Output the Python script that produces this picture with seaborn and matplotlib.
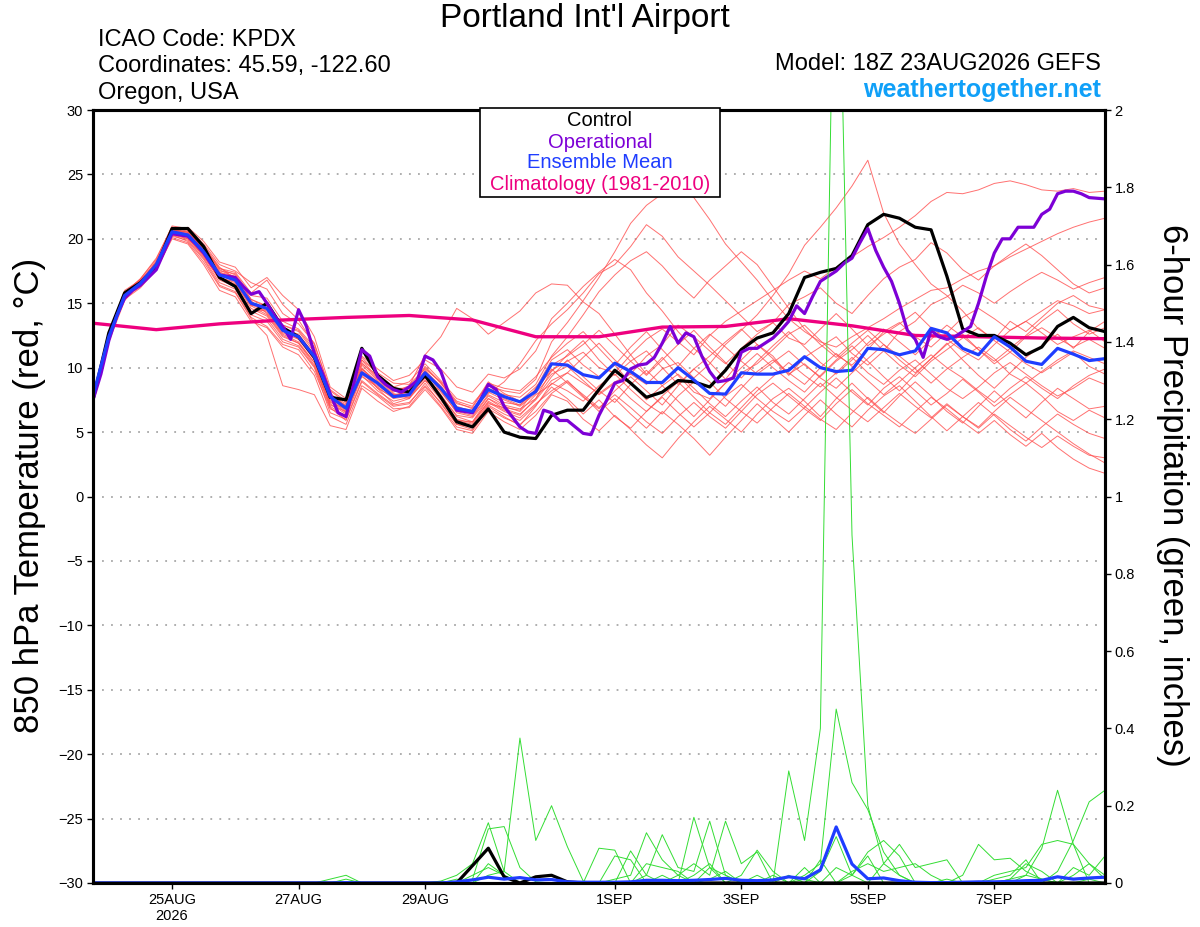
import numpy as np
import pandas as pd
import matplotlib
matplotlib.use("Agg")
import matplotlib.pyplot as plt
from matplotlib.patches import Rectangle
import seaborn as sns

sns.set_theme(style="ticks")
plt.rcParams["font.family"] = ["Liberation Sans", "DejaVu Sans"]
plt.rcParams["text.color"] = "black"

START = "2026-08-23 18:00"
END = "2026-09-08 18:00"

# 850 hPa temperature, 6-hourly (control, ensemble mean, members)
control = [7.5, 12.7, 15.8, 16.6, 17.8, 20.8, 20.8, 19.4, 17.0, 16.3,
           14.2, 15.0, 13.1, 12.4, 10.8, 7.7, 7.5, 11.5, 9.4, 8.4,
           8.1, 9.4, 7.7, 5.8, 5.4, 6.8, 5.0, 4.6, 4.5, 6.3,
           6.7, 6.7, 8.3, 9.8, 8.8, 7.7, 8.1, 9.0, 8.9, 8.5,
           9.8, 11.4, 12.3, 12.7, 14.2, 17.0, 17.4, 17.7, 18.7, 21.1,
           21.9, 21.6, 20.9, 20.7, 17.1, 13.0, 12.5, 12.5, 11.9, 11.0,
           11.6, 13.2, 13.9, 13.1, 12.8]

ens_mean = [7.8, 12.4, 15.6, 16.55, 18.0, 20.55, 20.3, 19.0, 17.2, 16.8,
            15.0, 14.6, 12.9, 12.4, 10.85, 7.75, 6.85, 9.6, 8.8, 7.75,
            7.9, 9.6, 8.4, 6.85, 6.6, 8.3, 7.75, 7.35, 8.15, 10.3,
            10.2, 9.45, 9.2, 10.35, 9.7, 8.85, 8.85, 10.0, 9.05, 8.0,
            7.95, 9.6, 9.5, 9.5, 9.8, 10.85, 10.0, 9.7, 9.8, 11.5,
            11.4, 11.0, 11.3, 13.05, 12.7, 11.5, 11.0, 12.4, 11.6, 10.5,
            10.25, 11.5, 11.05, 10.55, 10.7]

# operational run, 3-hourly
operational = [7.5, 9.5, 12.1, 14.0, 15.4, 16.0, 16.4, 17.0, 17.6, 19.0,
               20.4, 20.3, 20.2, 19.6, 18.9, 18.0, 17.2, 17.1, 17.0, 16.3,
               15.7, 15.9, 15.0, 14.0, 13.2, 12.2, 14.5, 13.2, 11.1, 9.6,
               8.0, 6.5, 6.2, 8.8, 11.4, 10.9, 9.3, 8.7, 8.3, 8.1,
               8.5, 9.0, 10.9, 10.6, 9.7, 8.0, 6.7, 6.6, 6.5, 7.5,
               8.7, 8.3, 7.0, 6.2, 5.4, 5.0, 4.9, 6.7, 6.5, 5.9,
               5.9, 5.4, 4.9, 4.8, 6.3, 7.5, 8.8, 9.0, 9.9, 10.2,
               10.3, 10.8, 11.9, 13.2, 11.9, 12.7, 12.4, 10.9, 9.7, 8.9,
               9.0, 9.2, 11.2, 11.5, 11.5, 11.9, 12.3, 12.9, 13.6, 14.8,
               14.2, 15.5, 16.7, 17.1, 17.5, 18.1, 18.5, 19.7, 20.8, 19.1,
               17.8, 16.7, 15.0, 12.9, 12.2, 10.8, 12.9, 12.4, 12.2, 12.4,
               12.8, 13.2, 15.0, 17.1, 18.9, 20.0, 20.0, 20.9, 20.9, 20.9,
               21.9, 22.3, 23.5, 23.7, 23.7, 23.5, 23.2, 23.15, 23.1]

# climatology, daily
climatology = [13.45, 12.95, 13.4, 13.7, 13.9, 14.05, 13.7, 12.4, 12.4,
               13.15, 13.2, 13.8, 13.25, 12.5, 12.4, 12.3, 12.25]

m01 = [7.6, 12.2, 15.5, 16.8, 18.2, 20.9, 20.7, 19.5, 17.8, 16.9, 15.2, 14.2, 12.6, 12.0, 10.4,
       7.2, 6.4, 10.2, 9.0, 8.0, 7.6, 9.0, 8.2, 6.5, 6.2, 7.8, 7.1, 6.8, 7.6, 9.8,
       10.5, 11.2, 10.0, 9.6, 11.0, 12.2, 13.0, 12.0, 11.0, 12.5, 13.6, 14.4, 15.2, 16.0, 16.8,
       17.5, 16.9, 17.8, 18.6, 19.4, 20.1, 20.9, 21.8, 22.9, 23.6, 23.5, 23.8, 24.3, 24.5, 24.2,
       23.8, 23.7, 23.9, 23.6, 23.7]
m02 = [7.9, 12.6, 15.9, 16.4, 17.8, 20.4, 20.1, 18.6, 16.9, 16.5, 14.8, 14.9, 13.3, 12.8, 11.2,
       8.0, 7.0, 10.8, 9.5, 8.5, 8.9, 10.3, 9.0, 7.6, 7.2, 8.6, 8.2, 8.0, 9.1, 12.0,
       13.5, 15.2, 17.0, 19.0, 21.2, 22.6, 23.5, 24.0, 23.2, 21.5, 19.6, 18.2, 16.8, 15.2, 13.8,
       12.8, 12.0, 11.6, 12.4, 13.1, 13.8, 14.6, 15.3, 16.0, 16.2, 16.9, 17.5, 17.9, 18.6, 19.2,
       19.8, 20.4, 20.9, 21.3, 21.6]
m03 = [7.4, 12.0, 15.2, 16.6, 18.3, 20.8, 20.6, 19.2, 17.5, 17.3, 15.6, 15.4, 13.6, 13.0, 11.6,
       7.4, 6.5, 9.8, 8.4, 7.2, 7.6, 9.4, 7.6, 5.9, 5.8, 7.6, 6.8, 6.4, 7.5, 9.0,
       9.6, 8.8, 8.0, 8.9, 9.5, 8.7, 9.9, 10.4, 9.2, 10.3, 11.8, 12.9, 14.1, 15.6, 17.3,
       19.5, 20.9, 22.4, 24.1, 26.1, 22.0, 19.6, 18.0, 16.5, 15.6, 14.4, 13.0, 12.2, 13.6, 12.8,
       13.9, 15.0, 15.6, 14.8, 14.5]
m04 = [7.7, 12.3, 15.7, 16.7, 17.9, 20.5, 20.9, 19.8, 18.2, 17.8, 16.2, 17.0, 15.6, 14.5, 12.4,
       8.5, 7.6, 10.9, 9.9, 9.0, 9.4, 10.6, 9.9, 8.5, 8.1, 9.5, 9.2, 9.9, 11.3, 13.8,
       15.0, 16.3, 17.4, 18.4, 17.6, 15.8, 14.4, 12.8, 11.5, 10.4, 9.1, 10.6, 11.8, 10.9, 9.4,
       10.8, 11.6, 12.4, 11.1, 10.2, 11.3, 12.8, 13.6, 14.9, 15.5, 16.4, 15.8, 15.0, 15.9, 16.7,
       17.4, 16.8, 16.1, 16.6, 17.0]
m05 = [7.8, 12.5, 15.5, 16.5, 18.1, 20.7, 20.4, 19.3, 17.6, 17.0, 14.9, 14.3, 12.7, 12.2, 10.7,
       7.6, 6.7, 10.4, 9.1, 8.1, 8.6, 11.0, 12.4, 14.6, 13.8, 12.6, 13.5, 14.4, 15.8, 16.5,
       16.4, 15.1, 14.2, 12.6, 11.0, 9.5, 10.8, 9.4, 8.1, 7.6, 8.8, 9.6, 10.3, 11.4, 12.6,
       13.3, 12.1, 11.0, 10.2, 11.4, 12.8, 13.5, 12.4, 11.6, 12.7, 13.9, 14.6, 13.8, 12.9, 13.6,
       14.4, 15.2, 14.8, 14.2, 14.5]
m06 = [7.6, 12.4, 15.8, 16.9, 18.5, 20.9, 20.2, 18.9, 17.0, 16.6, 14.6, 14.0, 12.4, 11.9, 10.2,
       7.0, 6.2, 9.3, 8.5, 7.6, 7.8, 9.2, 7.8, 6.3, 6.1, 7.6, 7.0, 6.6, 7.9, 8.7,
       9.6, 10.8, 11.9, 10.6, 9.5, 10.9, 11.8, 13.3, 12.4, 11.3, 10.3, 11.5, 12.6, 13.5, 12.3,
       11.8, 13.0, 14.2, 13.0, 11.7, 12.6, 13.4, 14.3, 13.1, 12.2, 11.3, 10.6, 11.8, 12.9, 13.6,
       12.7, 11.8, 12.4, 12.9, 12.0]
m07 = [7.5, 12.1, 15.4, 16.3, 17.7, 20.2, 19.9, 18.5, 16.6, 16.1, 14.1, 13.6, 12.0, 11.6, 10.0,
       6.5, 6.0, 9.0, 8.0, 7.1, 7.3, 8.6, 7.3, 5.6, 5.2, 7.0, 6.2, 5.5, 7.0, 8.8,
       8.2, 7.4, 8.6, 9.5, 8.3, 7.2, 6.4, 7.8, 8.9, 8.0, 7.0, 8.4, 9.7, 10.6, 9.5,
       10.3, 9.2, 8.4, 9.6, 10.7, 11.8, 10.9, 9.9, 8.8, 9.9, 10.8, 11.6, 10.7, 9.5, 8.8,
       9.7, 10.6, 11.3, 10.8, 10.3]
m08 = [7.9, 12.7, 16.0, 16.8, 18.0, 20.3, 19.8, 18.4, 16.4, 15.9, 13.9, 13.2, 11.8, 11.4, 9.7,
       6.8, 6.3, 9.5, 8.6, 7.8, 8.2, 9.8, 8.5, 6.8, 6.5, 8.1, 7.5, 7.0, 8.0, 9.5,
       10.1, 9.0, 7.9, 8.8, 7.6, 6.6, 7.8, 8.9, 7.7, 6.5, 5.6, 6.9, 8.2, 9.3, 10.4,
       9.4, 8.5, 9.6, 10.8, 9.6, 8.7, 9.8, 10.6, 9.5, 8.4, 7.6, 8.5, 9.6, 10.4, 9.5,
       8.6, 7.8, 8.4, 9.2, 8.7]
m09 = [7.6, 12.3, 15.6, 16.4, 17.6, 20.0, 19.6, 18.0, 16.0, 15.5, 13.6, 13.1, 11.6, 11.0, 9.4,
       6.2, 5.6, 8.6, 7.8, 6.8, 6.9, 8.3, 6.9, 5.2, 4.9, 6.6, 5.8, 5.2, 6.3, 7.9,
       7.4, 6.0, 5.1, 6.3, 5.2, 4.0, 3.0, 4.5, 5.8, 7.0, 6.0, 5.0, 6.4, 7.6, 8.4,
       7.4, 6.2, 7.6, 8.8, 7.6, 6.5, 7.8, 8.9, 7.8, 6.6, 5.7, 7.0, 8.2, 7.1, 6.1,
       7.3, 8.4, 7.6, 6.8, 7.0]
m10 = [7.8, 12.5, 15.7, 16.6, 17.9, 20.4, 20.0, 18.7, 16.8, 16.3, 14.3, 14.5, 12.9, 12.4, 10.6,
       7.3, 6.8, 9.9, 8.8, 7.9, 8.1, 9.5, 7.9, 6.2, 5.8, 7.3, 6.6, 6.1, 7.2, 8.2,
       9.0, 7.8, 6.6, 7.6, 6.4, 5.3, 6.6, 5.6, 4.5, 3.2, 4.6, 5.9, 7.2, 6.1, 5.0,
       6.3, 7.5, 6.4, 5.4, 6.7, 7.8, 8.6, 7.4, 6.2, 5.1, 6.2, 7.3, 6.3, 5.2, 4.3,
       5.4, 6.4, 5.6, 4.9, 4.5]
m11 = [7.7, 12.4, 15.6, 16.7, 18.2, 20.6, 20.4, 19.1, 17.4, 16.9, 15.0, 14.4, 12.8, 12.3, 10.8,
       7.5, 6.6, 9.4, 8.2, 7.4, 7.7, 9.0, 7.5, 5.9, 5.6, 7.2, 6.9, 6.7, 8.4, 10.6,
       11.4, 10.2, 9.3, 10.2, 8.8, 7.5, 8.6, 9.5, 8.4, 7.2, 6.2, 7.4, 8.5, 7.3, 6.4,
       7.6, 8.8, 7.7, 6.7, 5.8, 6.9, 8.0, 7.0, 6.1, 7.2, 6.2, 5.3, 6.4, 5.5, 4.6,
       3.8, 4.7, 3.9, 3.2, 3.0]
m12 = [7.5, 12.2, 15.3, 16.2, 17.6, 20.1, 19.7, 18.2, 16.3, 15.8, 13.8, 12.5, 8.6, 8.3, 7.9,
       5.5, 5.2, 8.4, 7.4, 6.6, 7.0, 8.5, 7.0, 5.4, 5.1, 6.8, 6.1, 5.6, 6.6, 8.0,
       8.9, 7.9, 6.9, 7.9, 6.9, 5.8, 4.9, 6.2, 7.3, 6.2, 5.3, 6.6, 7.9, 8.8, 7.8,
       6.8, 5.9, 7.2, 8.3, 7.2, 6.3, 5.4, 6.6, 7.7, 6.8, 5.8, 4.9, 5.9, 4.8, 3.9,
       4.9, 3.8, 2.9, 2.2, 1.8]
m13 = [7.7, 12.3, 15.6, 16.5, 18.0, 20.7, 20.5, 19.2, 17.4, 17.1, 15.3, 14.8, 13.1, 12.5, 11.0,
       7.9, 7.2, 10.3, 9.4, 8.4, 8.4, 10.1, 8.8, 7.2, 6.9, 8.8, 8.4, 8.2, 9.3, 10.8,
       11.9, 12.8, 11.5, 10.2, 11.6, 12.8, 11.4, 10.1, 11.5, 12.6, 11.6, 10.5, 9.5, 10.4, 11.3,
       10.2, 9.3, 10.5, 11.4, 12.5, 11.3, 10.2, 9.3, 10.5, 11.4, 12.3, 13.1, 12.1, 11.2, 10.3,
       9.6, 10.4, 11.2, 10.1, 9.5]
m14 = [7.6, 12.4, 15.7, 16.6, 18.1, 20.6, 20.3, 19.0, 17.3, 16.8, 15.0, 14.6, 13.0, 12.6, 11.0,
       7.8, 6.9, 9.7, 8.9, 7.9, 8.0, 9.7, 8.4, 6.9, 6.7, 8.4, 7.9, 7.7, 8.7, 10.9,
       12.4, 14.1, 15.9, 17.2, 18.3, 19.0, 17.9, 16.5, 15.4, 16.8, 17.9, 19.0, 18.0, 16.3, 14.6,
       13.0, 11.8, 10.8, 11.9, 12.9, 11.8, 10.6, 9.6, 10.7, 11.8, 12.6, 11.4, 10.3, 11.2, 12.4,
       13.1, 12.3, 11.6, 12.2, 11.5]
m15 = [7.7, 12.5, 15.8, 16.9, 18.4, 21.0, 20.8, 19.6, 18.0, 17.5, 16.6, 16.1, 14.2, 13.4, 11.9,
       8.2, 7.3, 10.0, 8.7, 7.7, 8.3, 10.0, 8.8, 7.3, 6.8, 8.0, 8.9, 10.3, 12.1, 13.4,
       14.5, 15.8, 17.3, 18.0, 19.4, 21.1, 20.2, 18.6, 17.5, 16.4, 15.2, 14.0, 12.8, 13.5, 14.9,
       15.5, 16.2, 15.0, 14.2, 15.6, 16.9, 17.8, 18.4, 19.7, 18.9, 17.6, 16.8, 17.9, 18.8, 19.6,
       18.7, 17.6, 16.5, 15.8, 16.2]
m16 = [7.5, 12.3, 15.5, 16.4, 17.8, 20.3, 20.0, 18.8, 17.0, 16.4, 14.4, 13.8, 12.2, 11.7, 10.1,
       6.9, 5.9, 8.9, 7.9, 7.0, 7.2, 8.8, 7.2, 5.6, 5.4, 7.1, 6.4, 5.9, 7.1, 8.5,
       7.6, 6.4, 7.5, 6.2, 5.3, 6.6, 7.7, 6.5, 5.4, 6.5, 7.8, 8.7, 7.6, 6.6, 5.8,
       6.9, 8.1, 9.2, 8.1, 7.1, 8.4, 9.3, 8.2, 7.1, 8.0, 9.1, 8.1, 7.0, 7.9, 8.8,
       7.8, 6.6, 5.9, 6.7, 6.1]
m17 = [7.8, 12.6, 15.9, 16.8, 18.1, 20.5, 20.6, 19.0, 17.1, 16.9, 14.8, 14.1, 12.5, 11.9, 10.4,
       7.1, 6.6, 9.6, 8.4, 7.7, 8.0, 9.2, 7.7, 6.0, 5.7, 7.4, 6.7, 6.3, 7.6, 9.3,
       10.6, 9.3, 8.2, 7.3, 8.7, 9.8, 8.6, 7.4, 6.2, 7.5, 8.8, 10.0, 11.1, 10.0, 9.0,
       8.1, 9.4, 10.6, 11.7, 10.5, 9.3, 8.2, 9.5, 10.7, 11.9, 10.6, 9.4, 8.4, 9.6, 10.8,
       11.7, 12.6, 11.5, 12.8, 13.6]
m18 = [7.6, 12.2, 15.4, 16.5, 18.0, 20.8, 20.5, 19.4, 17.7, 17.4, 15.8, 16.8, 14.9, 13.7, 11.8,
       8.3, 7.4, 10.6, 9.6, 8.8, 8.7, 9.9, 8.9, 7.4, 7.0, 8.9, 8.0, 7.4, 8.5, 9.7,
       11.0, 12.1, 10.6, 9.4, 10.5, 11.3, 10.0, 8.7, 9.9, 10.9, 12.0, 13.0, 11.8, 10.7, 9.6,
       8.7, 10.0, 11.1, 10.1, 9.0, 7.9, 8.9, 10.0, 11.0, 10.0, 9.2, 8.2, 7.3, 8.4, 9.3,
       8.4, 7.6, 8.6, 9.4, 9.9]
m19 = [7.7, 12.4, 15.6, 16.6, 17.9, 20.4, 20.2, 18.8, 16.9, 16.7, 14.9, 14.6, 13.0, 12.2, 10.6,
       7.7, 7.1, 10.6, 9.2, 8.2, 8.5, 9.7, 8.6, 7.0, 6.6, 8.3, 7.6, 7.1, 8.2, 9.9,
       8.8, 7.7, 6.8, 8.2, 9.3, 8.2, 7.1, 8.6, 9.9, 8.9, 7.6, 6.6, 5.7, 6.9, 8.0,
       7.0, 6.0, 5.2, 6.5, 7.7, 6.6, 5.7, 4.9, 6.0, 7.1, 6.2, 5.4, 6.6, 7.7, 6.8,
       5.9, 5.0, 4.1, 3.3, 2.6]
m20 = [7.6, 12.3, 15.5, 16.6, 18.1, 20.7, 20.5, 19.3, 17.7, 17.2, 15.3, 14.7, 13.3, 12.9, 11.4,
       7.9, 7.0, 9.9, 8.9, 7.8, 8.2, 9.7, 8.1, 6.6, 6.3, 7.9, 7.3, 7.1, 8.3, 10.2,
       10.9, 11.8, 12.9, 11.7, 10.5, 9.4, 10.6, 11.8, 12.9, 11.6, 10.4, 9.2, 10.5, 11.7, 12.8,
       11.6, 10.4, 9.5, 10.6, 11.9, 13.0, 12.0, 11.0, 12.2, 13.3, 12.4, 11.4, 10.5, 11.5, 12.5,
       13.6, 14.5, 13.4, 12.6, 13.1]

# 6-hour precipitation (inches)
precip_control = [0, 0, 0, 0, 0, 0, 0, 0, 0, 0, 0, 0, 0, 0, 0, 0, 0, 0, 0, 0,
                  0, 0, 0, 0, 0.045, 0.09, 0.016, 0.0, 0.016, 0.02, 0.003, 0, 0, 0, 0, 0, 0, 0, 0, 0,
                  0, 0, 0, 0, 0, 0, 0, 0, 0, 0, 0, 0, 0, 0, 0, 0, 0, 0, 0, 0,
                  0, 0, 0, 0, 0]
precip_mean = [0, 0, 0, 0, 0, 0, 0, 0, 0, 0, 0, 0, 0, 0, 0, 0, 0.001, 0, 0, 0,
               0, 0, 0, 0.003, 0.008, 0.015, 0.01, 0.014, 0.008, 0.009, 0.003, 0.002, 0.002, 0.002, 0.003, 0.007, 0.007, 0.006, 0.007, 0.009,
               0.012, 0.007, 0.006, 0.008, 0.016, 0.011, 0.034, 0.145, 0.049, 0.011, 0.013, 0.006, 0.002, 0.001, 0.001, 0.002, 0.003, 0.003, 0.004, 0.006,
               0.007, 0.016, 0.01, 0.013, 0.015]
g01 = [0, 0, 0, 0, 0, 0, 0, 0, 0, 0, 0, 0, 0, 0, 0, 0.01, 0.02, 0, 0, 0,
       0, 0, 0, 0, 0.02, 0.04, 0.02, 0, 0, 0, 0, 0, 0, 0.01, 0.02, 0.13, 0.06, 0.02, 0, 0.01,
       0.03, 0, 0.02, 0, 0.29, 0.11, 0.40, 2.8, 0.9, 0.2, 0.05, 0.02, 0, 0, 0.01, 0, 0, 0, 0.01, 0.02,
       0.01, 0, 0, 0.01, 0]
g02 = [0, 0, 0, 0, 0, 0, 0, 0, 0, 0, 0, 0, 0, 0, 0, 0, 0, 0, 0, 0,
       0, 0, 0, 0.01, 0, 0.02, 0.03, 0.375, 0.11, 0.2, 0.094, 0.005, 0, 0.07, 0.06, 0, 0.02, 0, 0.17, 0.04,
       0, 0, 0, 0.02, 0, 0.02, 0.05, 0.45, 0.26, 0.19, 0.08, 0.02, 0, 0, 0, 0.02, 0.1, 0.06, 0.064, 0.03,
       0.01, 0, 0.02, 0.05, 0.01]
g03 = [0, 0, 0, 0, 0, 0, 0, 0, 0, 0, 0, 0, 0, 0, 0, 0, 0.01, 0, 0, 0,
       0, 0, 0.005, 0.02, 0.05, 0.156, 0.03, 0, 0, 0, 0.005, 0, 0, 0, 0, 0.02, 0.125, 0.04, 0.03, 0.16,
       0.02, 0, 0, 0, 0.02, 0, 0.03, 0.12, 0.02, 0.07, 0, 0, 0, 0, 0, 0, 0, 0, 0, 0.02,
       0.089, 0.24, 0.1, 0, 0]
g04 = [0, 0, 0, 0, 0, 0, 0, 0, 0, 0, 0, 0, 0, 0, 0, 0, 0, 0, 0, 0,
       0, 0, 0, 0, 0.01, 0.14, 0.146, 0.04, 0.003, 0, 0, 0, 0.09, 0.085, 0, 0, 0, 0.02, 0.05, 0.02,
       0.16, 0.05, 0.08, 0, 0, 0.04, 0, 0, 0.02, 0.08, 0.11, 0.07, 0, 0, 0, 0, 0, 0.01, 0.02, 0.06,
       0, 0.03, 0.11, 0.21, 0.24]
g05 = [0, 0, 0, 0, 0, 0, 0, 0, 0, 0, 0, 0, 0, 0, 0, 0, 0, 0, 0, 0,
       0, 0, 0, 0, 0, 0.05, 0.02, 0, 0, 0, 0, 0, 0, 0, 0.083, 0.02, 0, 0, 0.02, 0.05,
       0, 0.02, 0.085, 0.03, 0, 0.01, 0, 0.04, 0.02, 0, 0.05, 0.1, 0.04, 0.05, 0.06, 0, 0, 0.02, 0.03, 0.04,
       0.1, 0.11, 0.1, 0.05, 0.02]
g06 = [0, 0, 0, 0, 0, 0, 0, 0, 0, 0, 0, 0, 0, 0, 0, 0, 0, 0, 0, 0,
       0, 0, 0, 0, 0, 0, 0, 0, 0, 0, 0, 0, 0, 0, 0, 0.05, 0.04, 0.03, 0, 0.04,
       0.02, 0, 0, 0, 0, 0, 0.06, 0, 0.03, 0.05, 0.03, 0.04, 0.05, 0.02, 0, 0, 0, 0, 0.01, 0.05,
       0.03, 0, 0.04, 0.02, 0.07]

tick_days = ["2026-08-25", "2026-08-27", "2026-08-29", "2026-09-01",
             "2026-09-03", "2026-09-05", "2026-09-07"]
tick_labels = ["25AUG\n2026", "27AUG", "29AUG", "1SEP", "3SEP", "5SEP", "7SEP"]

times6 = pd.date_range(START, periods=65, freq="6h")
times3 = pd.date_range(START, periods=129, freq="3h")
times24 = pd.date_range(START, periods=17, freq="24h")

temp_members = [m01, m02, m03, m04, m05, m06, m07, m08, m09, m10,
                m11, m12, m13, m14, m15, m16, m17, m18, m19, m20]
precip_members = [g01, g02, g03, g04, g05, g06]


def long_frame(series, value_name):
    return pd.DataFrame({
        "time": np.tile(times6.values, len(series)),
        value_name: np.concatenate([np.asarray(s, dtype=float) for s in series]),
        "member": np.repeat(np.arange(len(series)), len(times6)),
    })


temp_df = long_frame(temp_members, "temp")
precip_df = long_frame(precip_members, "precip")

RED = "#ff4d4d"
GREEN = "#33dd33"
PURPLE = "#7d00d6"
BLUE = "#1f3dff"
MAGENTA = "#ee007f"

fig = plt.figure(figsize=(12, 9.27), dpi=100)
ax = fig.add_axes([93 / 1200, 1 - 883 / 927, 1012 / 1200, 773 / 927])

sns.lineplot(data=temp_df, x="time", y="temp", units="member", estimator=None,
             color=RED, lw=0.7, alpha=0.8, ax=ax, legend=False)
sns.lineplot(x=times24, y=climatology, color=MAGENTA, lw=2.4, ax=ax)
sns.lineplot(x=times6, y=control, color="black", lw=2.3, ax=ax)
sns.lineplot(x=times3, y=operational, color=PURPLE, lw=2.3, ax=ax)
sns.lineplot(x=times6, y=ens_mean, color=BLUE, lw=2.3, ax=ax)

ax.set_xlim(pd.Timestamp(START), pd.Timestamp(END))
ax.set_ylim(-30, 30)
ax.set_yticks(range(-30, 31, 5))
ax.set_xticks(pd.to_datetime(tick_days))
ax.set_xticklabels(tick_labels, linespacing=1.25)
ax.set_xlabel("")
ax.set_ylabel("")
ax.yaxis.grid(True, linestyle=(0, (1, 4)), color="#a8a8a8", lw=1.3)
ax.set_axisbelow(True)
ax.tick_params(axis="both", direction="out", length=4, width=1, labelsize=10.5,
               colors="black", pad=3)

ax2 = ax.twinx()
sns.lineplot(data=precip_df, x="time", y="precip", units="member", estimator=None,
             color=GREEN, lw=0.7, ax=ax2, legend=False)
sns.lineplot(x=times6, y=precip_control, color="black", lw=2.3, ax=ax2)
sns.lineplot(x=times6, y=precip_mean, color=BLUE, lw=2.3, ax=ax2)
ax2.set_ylim(0, 2)
ax2.set_xlim(pd.Timestamp(START), pd.Timestamp(END))
ax2.set_yticks(np.arange(0, 2.01, 0.2))
ax2.set_yticklabels([f"{v:g}" for v in np.round(np.arange(0, 2.01, 0.2), 1)])
ax2.set_xlabel("")
ax2.set_ylabel("")
ax2.tick_params(axis="y", direction="out", length=4, width=1, labelsize=10.5,
                colors="black", pad=3)

for a in (ax, ax2):
    for sp in a.spines.values():
        sp.set_visible(True)
        sp.set_color("black")
        sp.set_linewidth(2.2)

# labels and header
fig.text(30 / 1200, 1 - 495 / 927, "850 hPa Temperature (red, °C)", rotation=90,
         ha="center", va="center", fontsize=25)
fig.text(1172 / 1200, 1 - 495 / 927, "6-hour Precipitation (green, inches)", rotation=-90,
         ha="center", va="center", fontsize=25)
fig.text(585 / 1200, 1 - 18 / 927, "Portland Int'l Airport", ha="center", va="center", fontsize=24)
fig.text(98 / 1200, 1 - 40 / 927, "ICAO Code: KPDX", ha="left", va="center", fontsize=17)
fig.text(98 / 1200, 1 - 66 / 927, "Coordinates: 45.59, -122.60", ha="left", va="center", fontsize=17)
fig.text(98 / 1200, 1 - 93 / 927, "Oregon, USA", ha="left", va="center", fontsize=17)
fig.text(1101 / 1200, 1 - 64 / 927, "Model: 18Z 23AUG2026 GEFS", ha="right", va="center", fontsize=17)
fig.text(1101 / 1200, 1 - 90 / 927, "weathertogether.net", ha="right", va="center",
         fontsize=18, fontweight="bold", color="#10a0f8")

# legend box
fig.add_artist(Rectangle((480 / 1200, 1 - 197 / 927), 240 / 1200, 89 / 927,
                         transform=fig.transFigure, facecolor="white",
                         edgecolor="black", lw=1.2, zorder=5))
legend_items = [("Control", "black", 120), ("Operational", PURPLE, 142),
                ("Ensemble Mean", BLUE, 163), ("Climatology (1981-2010)", MAGENTA, 185)]
for text, col, ypix in legend_items:
    fig.text(600 / 1200, 1 - ypix / 927, text, ha="center", va="center",
             fontsize=14.5, color=col, zorder=6)

fig.savefig("out.png", dpi=100)
